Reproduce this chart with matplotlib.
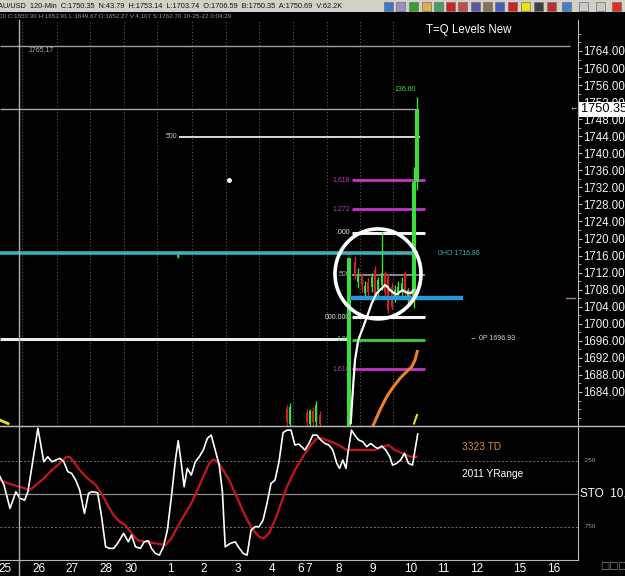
import matplotlib.pyplot as plt
import numpy as np
from matplotlib.patches import Ellipse, Rectangle
from matplotlib.lines import Line2D
from matplotlib.transforms import blended_transform_factory

plt.rcParams['font.family'] = ['Liberation Sans', 'DejaVu Sans']
NARROW = ['Liberation Sans Narrow', 'Liberation Sans', 'DejaVu Sans']

# ---------------- data (x = bar position on the time scale) ----------------
price_ticks = np.arange(1684, 1765, 4)
date_pos = [5, 39, 72, 106, 131, 170, 204, 238, 272, 301, 309, 339, 373, 411, 443, 477, 520, 554]
date_labels = ['25', '26', '27', '28', '30', '1', '2', '3', '4', '6', '7', '8', '9', '10', '11', '12', '15', '16']
grid_pos = [22, 57, 90, 124, 157, 192, 226, 259, 293, 327, 360, 393]

# horizontal levels
level_prices = [1765.17, 1750.35, 1743.9, 1716.6, 1696.5, 1721.4, 1726.9, 1733.7, 1711.45, 1706.0, 1701.5, 1696.2, 1689.3]
level_x0 = [0, 0, 179, 0, 0, 352, 352, 352, 352, 350, 352, 352, 352]
level_x1 = [570, 415, 420, 418, 350, 425, 425, 425, 425, 463, 425, 425, 425]
level_tags = ['', '', '500', '', '', '.000', '1.272', '1.618', '500', '', '000.000', '1.00', '1.618']

# candles
c_x = [178, 287, 290, 307, 310, 313, 316, 320, 349, 355, 358, 362, 365, 368, 372, 375, 378,
       382, 385, 388, 392, 395, 398, 402, 405, 408, 410, 414, 417]
c_open = [1715.6, 1680.0, 1676.5, 1679.0, 1676.5, 1679.5, 1677.0, 1678.5, 1670.0, 1714.6, 1709.9, 1711.5,
          1707.2, 1709.9, 1708.7, 1712.6, 1707.9, 1709.0, 1711.8, 1711.0, 1708.7, 1705.6, 1707.2,
          1707.5, 1711.8, 1705.6, 1707.2, 1706.59, 1733.2]
c_high = [1716.4, 1681.0, 1681.5, 1680.0, 1680.0, 1680.5, 1682.0, 1679.5, 1715.6, 1716.0, 1713.0, 1712.0,
          1710.0, 1711.0, 1712.0, 1713.5, 1711.0, 1721.5, 1712.5, 1712.0, 1709.5, 1709.0, 1710.0,
          1711.0, 1712.5, 1708.5, 1708.0, 1736.8, 1753.14]
c_low = [1715.4, 1676.0, 1676.0, 1676.0, 1676.0, 1676.0, 1676.0, 1676.0, 1670.0, 1710.5, 1708.5, 1707.5,
         1706.0, 1706.5, 1707.5, 1705.5, 1706.5, 1708.0, 1706.0, 1702.5, 1703.5, 1705.0, 1706.0,
         1706.5, 1706.0, 1704.5, 1704.5, 1703.74, 1731.5]
c_close = [1716.2, 1677.0, 1680.5, 1677.0, 1679.5, 1677.0, 1680.9, 1676.5, 1715.4, 1711.5, 1711.45, 1709.1,
           1708.9, 1707.5, 1711.0, 1706.4, 1710.3, 1711.8, 1707.5, 1703.2, 1704.0, 1707.9, 1708.7,
           1709.5, 1707.5, 1707.9, 1705.2, 1733.2, 1750.35]

# white average line
wl_x = [350.7, 353.3, 355, 358.3, 363.3, 368.3, 371.7, 376.7, 381.7, 385, 387.3, 390, 393.3, 396.7,
        400, 402.7, 405, 408.3, 411.7, 413.3]
wl_y = [1676.7, 1686.0, 1691.5, 1696.2, 1699.3, 1702.5, 1704.8, 1707.2, 1708.3, 1709.1, 1708.7, 1707.9,
        1707.3, 1706.9, 1707.5, 1707.9, 1707.5, 1707.2, 1707.3, 1707.9]
# orange line
ol_x = [372.7, 380, 386.7, 393.3, 400, 406.7, 411.7, 415, 417.3]
ol_y = [1675.9, 1679.8, 1682.9, 1685.2, 1687.2, 1688.8, 1689.9, 1691.5, 1693.5]
# yellow pieces
yl_x = [0, 8]
yl_y = [1677.4, 1676.6]
y2_x = [414, 417]
y2_y = [1676.6, 1678.6]

# stochastic
sto_x = [0, 4.0, 10.0, 15.9, 19.9, 24.7, 27.9, 31.9, 37.9, 43.8, 47.8, 51.8, 55.8, 59.8, 63.8, 67.8,
         71.7, 75.7, 79.7, 84.5, 88.5, 91.7, 97.6, 101.6, 105.6, 109.6, 113.6, 117.6, 123.6, 128.3,
         131.5, 135.5, 140.3, 144.3, 148.3, 151.5, 155.4, 159.4, 163.4, 167.4, 171.4, 175.4, 178.2,
         181.3, 184.1, 187.3, 191.3, 195.3, 199.3, 203.3, 207.3, 211.2, 215.2, 219.2, 222.4, 225.2,
         230.4, 235.2, 238.3, 243.1, 247.1, 251.1, 255.1, 259.1, 263.1, 267.0, 271.0, 275.0, 279.0,
         283.0, 287.0, 291.0, 294.9, 298.9, 304.9, 308.9, 312.9, 316.9, 320.8, 324.8, 328.8, 332.8,
         336.8, 339.6, 342.8, 346.0, 347.9, 351.5, 354.7, 358.7, 362.7, 366.7, 370.7, 374.7, 377.8,
         381.8, 385.8, 389.8, 392.6, 396.6, 400.6, 404.5, 408.5, 412.5, 417.7]
sto_k = [0.371, 0.434, 0.611, 0.485, 0.535, 0.548, 0.485, 0.296, 0.005, 0.258, 0.220, 0.258, 0.245,
         0.232, 0.258, 0.333, 0.346, 0.397, 0.472, 0.649, 0.498, 0.485, 0.492, 0.674, 0.902, 0.914,
         0.914, 0.876, 0.800, 0.864, 0.813, 0.902, 0.914, 0.864, 0.856, 0.914, 0.952, 0.965, 0.902,
         0.775, 0.523, 0.245, 0.098, 0.270, 0.447, 0.308, 0.359, 0.258, 0.220, 0.169, 0.081, 0.056,
         0.169, 0.283, 0.485, 0.902, 0.876, 0.864, 0.902, 0.952, 0.965, 0.775, 0.750, 0.750, 0.699,
         0.573, 0.422, 0.397, 0.258, 0.038, 0.018, 0.018, 0.131, 0.124, 0.169, 0.119, 0.056, 0.056,
         0.093, 0.119, 0.131, 0.169, 0.270, 0.308, 0.245, 0.308, 0.194, 0.018, 0.056, 0.093, 0.106,
         0.144, 0.119, 0.144, 0.157, 0.139, 0.169, 0.220, 0.283, 0.270, 0.245, 0.194, 0.270, 0.283,
         0.048]
sig_x = [0, 8.0, 19.9, 29.9, 35.9, 43.8, 51.8, 59.8, 65.8, 69.7, 73.7, 79.7, 87.7, 95.7, 101.6,
         107.6, 113.6, 119.6, 125.5, 131.5, 137.5, 145.5, 155.4, 165.4, 171.4, 179.4, 185.3, 191.3,
         197.3, 203.3, 209.2, 213.2, 217.2, 223.2, 229.2, 235.2, 241.1, 247.1, 253.1, 259.1, 263.8,
         269.0, 275.0, 281.0, 287.0, 294.9, 302.9, 310.9, 316.9, 322.8, 330.8, 338.8, 346.7, 358.7,
         374.7, 382.6, 388.6, 394.6, 402.6, 410.5, 416.5]
sig_d = [0.397, 0.422, 0.447, 0.472, 0.434, 0.384, 0.321, 0.270, 0.225, 0.220, 0.258, 0.321, 0.384,
         0.434, 0.498, 0.586, 0.662, 0.712, 0.737, 0.800, 0.851, 0.864, 0.876, 0.889, 0.838, 0.725,
         0.649, 0.573, 0.472, 0.371, 0.270, 0.240, 0.258, 0.321, 0.397, 0.498, 0.598, 0.699, 0.775,
         0.826, 0.838, 0.800, 0.699, 0.573, 0.447, 0.321, 0.220, 0.131, 0.081, 0.081, 0.106, 0.131,
         0.169, 0.169, 0.169, 0.144, 0.131, 0.169, 0.194, 0.220, 0.220]

# ---------------- styles ----------------
MAG = '#c634c8'
GRN = '#38e038'
BLUE = '#2a96d8'
level_colors = ['#9c9c9c', '#a8a8a8', '#d8d8d8', '#3ab2ba', '#ececec', '#f2f2f2', MAG, MAG,
                '#a0a0a0', BLUE, '#f2f2f2', '#3ccf3c', MAG]
level_widths = [1, 1, 1.4, 2.6, 2.2, 2.2, 2, 2, 1.2, 3.2, 2.2, 2, 2]
tag_colors = ['', '', '#c8c8c8', '', '', '#e8e8e8', MAG, MAG, '#b0b0b0', '', '#e8e8e8', '#8ccf8c', MAG]

W, H = 625, 576


def box(x0, y0, x1, y1):
    return [x0 / W, 1 - y1 / H, (x1 - x0) / W, (y1 - y0) / H]


fig = plt.figure(figsize=(W / 100, H / 100), dpi=100, facecolor='black')
ax = fig.add_axes(box(0, 20, 578, 426), facecolor='black')
ax2 = fig.add_axes(box(0, 426, 578, 560), facecolor='black')

# ---------------- price panel ----------------
ax.set_xlim(0, 578)
ax.set_ylim(1676.02, 1771.27)
for g in grid_pos:
    ax.axvline(g, color='#5c5c5c', ls=(0, (1, 2)), lw=0.8, zorder=0)

for p, a, b, c, w, tag, tc in zip(level_prices, level_x0, level_x1, level_colors, level_widths,
                                   level_tags, tag_colors):
    z = 4 if c == BLUE else 2
    ax.plot([a, b], [p, p], color=c, lw=w, solid_capstyle='butt', zorder=z)
    if tag:
        ax.text(a - 2, p, tag, color=tc, fontsize=5, family=NARROW, ha='right', va='center')

ax.text(28, 1764.1, '1765.17', color='#b0b0b0', fontsize=5, family=NARROW, va='center')
ax.text(438, 1716.6, '0HO 1716.86', color='#3ab2ba', fontsize=5, family=NARROW, va='center')
ax.text(470, 1696.5, '\u2190 0P 1696.93', color='#d8d8d8', fontsize=5, family=NARROW, va='center')
ax.text(405, 1754.85, '136.60', color=GRN, fontsize=5, family=NARROW, ha='center', va='center')
ax.plot([229], [1733.7], 'o', color='white', ms=2.5)

# candles
for x, o, h, l, c in zip(c_x, c_open, c_high, c_low, c_close):
    col = GRN if c >= o else '#d42020'
    ax.vlines(x, l, h, color=col, lw=1, zorder=3)
    ax.bar(x, abs(c - o), bottom=min(o, c), width=3.8 if x in (349, 414, 417) else 2.6,
           color=col, zorder=3, linewidth=0)

ax.plot(wl_x, wl_y, color='white', lw=1.6, zorder=5)
ax.plot(ol_x, ol_y, color='#e8802c', lw=2.2, zorder=5)
ax.plot(yl_x, yl_y, color='#e8e020', lw=2, zorder=5)
ax.plot(y2_x, y2_y, color='#e8e020', lw=1.5, zorder=5)
ax.add_patch(Ellipse((378, 1711.7), 86, 21.1, fill=False, ec='white', lw=2.6, zorder=6))
ax.plot([566, 575], [1706, 1706], color='#b07a7a', lw=1, zorder=2)

ax.text(426, 1768.9, 'T=Q Levels New', color='white', fontsize=8.3, va='center')

for s in ['top', 'left', 'bottom']:
    ax.spines[s].set_visible(False)
ax.spines['right'].set_color('#b8b8b8')
ax.yaxis.tick_right()
ax.set_yticks(price_ticks)
ax.set_yticklabels([f'{p:.2f}' for p in price_ticks])
ax.set_yticks(np.arange(1678, 1770, 2), minor=True)
ax.tick_params(axis='y', which='major', colors='#b8b8b8', labelcolor='#f4f4f4', labelsize=8.3,
               length=3, pad=0.5)
ax.tick_params(axis='y', which='minor', colors='#b8b8b8', length=2)
ax.tick_params(axis='x', bottom=False, labelbottom=False)

tr = blended_transform_factory(ax.transAxes, ax.transData)
ax.text(1.005, 1750.35, '1750.35', transform=tr, color='black', fontsize=9.2, va='center',
        bbox=dict(boxstyle='square,pad=0.12', fc='white', ec='none'), clip_on=False, zorder=10)
ax.text(0.992, 1750.35, '\u2190', transform=tr, color='white', fontsize=6, ha='center',
        va='center', clip_on=False)

# ---------------- stochastic panel ----------------
ax2.set_xlim(0, 578)
ax2.set_ylim(1.002, -0.013)
ax2.axhline(0.25, color='#707070', ls=(0, (2, 2)), lw=0.7)
ax2.axhline(0.75, color='#707070', ls=(0, (2, 2)), lw=0.7)
ax2.axhline(0.5, color='#8c8c8c', lw=0.9)
ax2.plot(sig_x, sig_d, color='#c8141e', lw=1.6, zorder=3)
ax2.plot(sto_x, sto_k, color='white', lw=1.2, zorder=4)
ax2.text(462, 0.146, '3323 TD', color='#d98a4a', fontsize=7.3, va='center')
ax2.text(462, 0.351, '2011 YRange', color='white', fontsize=7.3, va='center')
ax2.text(583, 0.25, '.250', color='#a0a0a0', fontsize=4.5, va='center', clip_on=False)
ax2.text(583, 0.75, '.750', color='#a0a0a0', fontsize=4.5, va='center', clip_on=False)
ax2.text(580, 0.5, 'STO  10,', color='white', fontsize=8.5, va='center', clip_on=False)

ax2.spines['left'].set_visible(False)
for s in ['top', 'right', 'bottom']:
    ax2.spines[s].set_color('#b8b8b8')
ax2.set_yticks([])
ax2.set_xticks(date_pos)
ax2.set_xticklabels(date_labels)
ax2.tick_params(axis='x', length=0, labelcolor='white', labelsize=8.5, pad=2.5)

# ---------------- frame decorations ----------------
fig.add_artist(Line2D([0, 1], [1 - 426 / H] * 2, color='#b8b8b8', lw=1))
fig.add_artist(Line2D([18.5 / W] * 2, [0, 1 - 20 / H], color='#b0b0b0', lw=1))
fig.patches.append(Rectangle((0, 1 - 12 / H), 1, 12 / H, transform=fig.transFigure,
                             facecolor='#d4d0c8', edgecolor='none'))
fig.text(-0.004, 1 - 6 / H,
         'AU/USD  120-Min  C:1750.35  N:43.79  H:1753.14  L:1703.74  O:1706.59  '
         'B:1750.35  A:1750.69  V:62.2K',
         color='#141414', fontsize=5.3, family=NARROW, va='center')
fig.text(-0.001, 1 - 16 / H,
         '00 C:1650.30 H:1653.91 L:1649.67 O:1652.27 V:4,107 S:1762.70 10-25-22 0:04:29',
         color='#9a9a9a', fontsize=4.5, family=NARROW, va='center')
icon_x = [388, 400, 413, 426, 438, 450, 462, 475, 488, 500, 512, 525, 538, 551, 566, 583, 600, 616]
icon_c = ['#3a7ad0', '#9a90c8', '#30a030', '#e0b040', '#40a060', '#d02020', '#c84848', '#5a5aa0',
          '#8a7050', '#4060c0', '#d02020', '#ece400', '#404040', '#c03030', '#4080d0', '#c8c8c8',
          '#c8c8c8', '#e03020']
for ix, ic in zip(icon_x, icon_c):
    fig.patches.append(Rectangle(((ix - 4.5) / W, 1 - 10.5 / H), 9 / W, 9 / H,
                                 transform=fig.transFigure, facecolor=ic, edgecolor='#707070',
                                 lw=0.5))
fig.text(600 / W, 1 - 566 / H, '\u25a1\u25a1\u25a1', color='#909090', fontsize=7,
         family=['DejaVu Sans'], va='center')

fig.savefig('out.png', dpi=100, facecolor='black')
